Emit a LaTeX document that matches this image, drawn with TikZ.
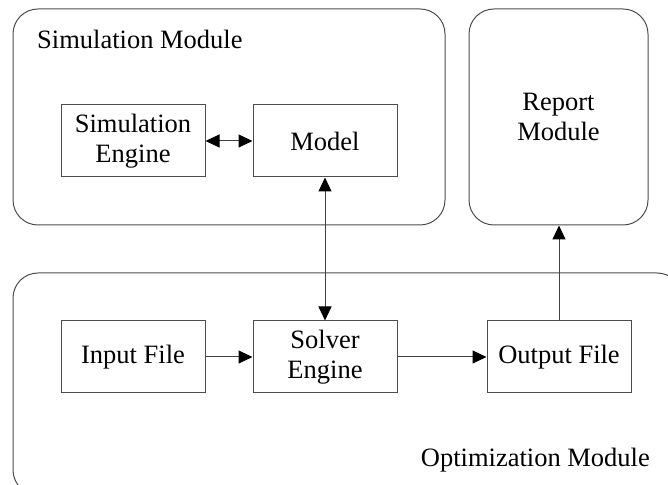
\documentclass[tikz,border=0pt]{standalone}
\usepackage{fontspec}
\setmainfont{Liberation Serif}
\usetikzlibrary{arrows.meta}

\tikzset{
  module/.style={draw=black!70, line width=1pt, rounded corners=25pt},
  block/.style={draw=black!70, line width=1pt, minimum width=144pt, minimum height=72pt, align=center, inner sep=0pt},
  tip/.tip={Triangle[length=14pt,width=13pt,color=black]},
  link/.style={draw=black!75, line width=1pt, -tip},
  biglink/.style={link, tip-tip}
}

\begin{document}
\begin{tikzpicture}[x=1pt, y=1pt, font=\fontsize{26.5}{30}\selectfont]
  \clip (0,0) rectangle (668,484);

  % Modules
  \draw[module] (13,259) rectangle (445,475);
  \node[module, minimum width=179pt, minimum height=216pt, align=center] (report) at (558.5,367) {Report\\Module};
  \draw[module] (13,-11) rectangle (682,211);
  \node[anchor=west, inner sep=0pt] (simlabel) at (37,445) {Simulation Module};
  \node[anchor=east, inner sep=0pt] (optlabel) at (650,24) {Optimization Module};

  % Boxes
  \node[block] (engine) at (133,343) {Simulation\\Engine};
  \node[block] (model) at (325,343) {Model};
  \node[block] (input) at (133,127) {Input File};
  \node[block] (solver) at (325,127) {Solver\\Engine};
  \node[block] (output) at (559,127) {Output File};

  % Arrows
  \draw[biglink] (engine) -- (model);
  \draw[biglink] (model) -- (solver);
  \draw[link] (input) -- (solver);
  \draw[link] (solver) -- (output);
  \draw[link] (output) -- (output |- report.south);
\end{tikzpicture}
\end{document}
